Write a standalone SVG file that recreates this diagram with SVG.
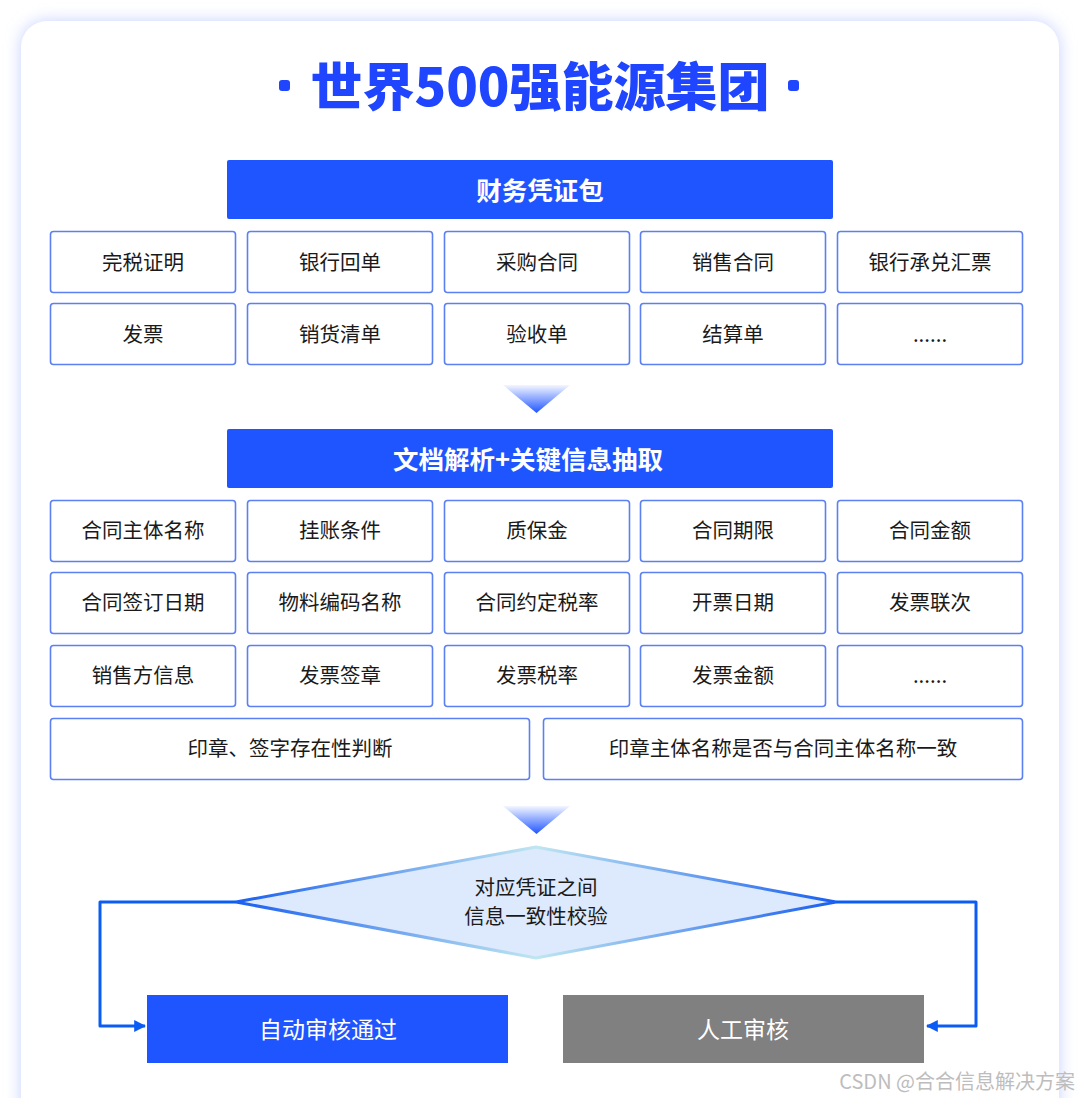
<svg xmlns="http://www.w3.org/2000/svg" width="1080" height="1098" viewBox="0 0 1080 1098">
<defs>
<style>
.box{fill:#fff;stroke:#5a80f2;stroke-width:1.6}
.t{font-family:"Noto Sans CJK SC","Noto Sans",sans-serif;font-size:20.5px;fill:#1a1a1a;text-anchor:middle;dominant-baseline:central}
.hd{fill:#1f55ff}
.ht{font-family:"Noto Sans CJK SC","Noto Sans",sans-serif;font-size:25.5px;font-weight:bold;fill:#fff;text-anchor:middle;dominant-baseline:central}
.wt{font-family:"Noto Sans CJK SC","Noto Sans",sans-serif;font-size:23px;fill:#fff;text-anchor:middle;dominant-baseline:central}
.conn{fill:none;stroke:#0a5cf5;stroke-width:3;stroke-linejoin:round}
</style>
<filter id="glow" x="-10%" y="-10%" width="120%" height="120%">
<feGaussianBlur stdDeviation="8"/>
</filter>
<linearGradient id="tri" x1="0" y1="0" x2="0" y2="1">
<stop offset="0" stop-color="#1f55ff" stop-opacity="0.05"/>
<stop offset="1" stop-color="#1f55ff"/>
</linearGradient>
<linearGradient id="dstroke" x1="0" y1="0" x2="1" y2="0">
<stop offset="0" stop-color="#1a5ff0"/>
<stop offset="0.5" stop-color="#bfe6f0"/>
<stop offset="1" stop-color="#1a5ff0"/>
</linearGradient>
<marker id="arr" viewBox="0 0 10 10" refX="9" refY="5" markerWidth="4" markerHeight="4" orient="auto" markerUnits="strokeWidth">
<path d="M0,0 L10,5 L0,10 z" fill="#0a5cf5"/>
</marker>
</defs>
<rect width="1080" height="1098" fill="#ffffff"/>
<rect x="21" y="21" width="1038" height="1110" rx="26" fill="#c6d0ff" filter="url(#glow)"/>
<rect x="21" y="21" width="1038" height="1110" rx="26" fill="#ffffff"/>

<g id="title">
<text x="540" y="83" font-family="'Noto Sans CJK SC','Noto Sans',sans-serif" font-size="52" font-weight="900" fill="#1f45ff" text-anchor="middle" dominant-baseline="central">世界500强能源集团</text>
<rect x="279" y="80" width="11" height="11" rx="3" fill="#1f45ff"/>
<rect x="788" y="80" width="11" height="11" rx="3" fill="#1f45ff"/>
</g>

<g id="header1"><rect class="hd" x="227" y="160" width="606" height="59" rx="2"/><text class="ht" x="540" y="188">财务凭证包</text></g>

<g id="r1c1"><rect class="box" x="50.5" y="231.5" width="185" height="61" rx="3"/><text class="t" x="143" y="261">完税证明</text></g>
<g id="r1c2"><rect class="box" x="247.5" y="231.5" width="185" height="61" rx="3"/><text class="t" x="340" y="261">银行回单</text></g>
<g id="r1c3"><rect class="box" x="444.5" y="231.5" width="185" height="61" rx="3"/><text class="t" x="537" y="261">采购合同</text></g>
<g id="r1c4"><rect class="box" x="640.5" y="231.5" width="185" height="61" rx="3"/><text class="t" x="733" y="261">销售合同</text></g>
<g id="r1c5"><rect class="box" x="837.5" y="231.5" width="185" height="61" rx="3"/><text class="t" x="930" y="261">银行承兑汇票</text></g>
<g id="r2c1"><rect class="box" x="50.5" y="303.5" width="185" height="61" rx="3"/><text class="t" x="143" y="333">发票</text></g>
<g id="r2c2"><rect class="box" x="247.5" y="303.5" width="185" height="61" rx="3"/><text class="t" x="340" y="333">销货清单</text></g>
<g id="r2c3"><rect class="box" x="444.5" y="303.5" width="185" height="61" rx="3"/><text class="t" x="537" y="333">验收单</text></g>
<g id="r2c4"><rect class="box" x="640.5" y="303.5" width="185" height="61" rx="3"/><text class="t" x="733" y="333">结算单</text></g>
<g id="r2c5"><rect class="box" x="837.5" y="303.5" width="185" height="61" rx="3"/><text class="t" x="930" y="333">......</text></g>

<g id="arrow1"><path d="M503,385 L570,385 L536.5,413 z" fill="url(#tri)"/></g>

<g id="header2"><rect class="hd" x="227" y="429" width="606" height="59" rx="2"/><text class="ht" x="528" y="457">文档解析+关键信息抽取</text></g>

<g id="k1c1"><rect class="box" x="50.5" y="500.5" width="185" height="61" rx="3"/><text class="t" x="143" y="529">合同主体名称</text></g>
<g id="k1c2"><rect class="box" x="247.5" y="500.5" width="185" height="61" rx="3"/><text class="t" x="340" y="529">挂账条件</text></g>
<g id="k1c3"><rect class="box" x="444.5" y="500.5" width="185" height="61" rx="3"/><text class="t" x="537" y="529">质保金</text></g>
<g id="k1c4"><rect class="box" x="640.5" y="500.5" width="185" height="61" rx="3"/><text class="t" x="733" y="529">合同期限</text></g>
<g id="k1c5"><rect class="box" x="837.5" y="500.5" width="185" height="61" rx="3"/><text class="t" x="930" y="529">合同金额</text></g>
<g id="k2c1"><rect class="box" x="50.5" y="572.5" width="185" height="61" rx="3"/><text class="t" x="143" y="601">合同签订日期</text></g>
<g id="k2c2"><rect class="box" x="247.5" y="572.5" width="185" height="61" rx="3"/><text class="t" x="340" y="601">物料编码名称</text></g>
<g id="k2c3"><rect class="box" x="444.5" y="572.5" width="185" height="61" rx="3"/><text class="t" x="537" y="601">合同约定税率</text></g>
<g id="k2c4"><rect class="box" x="640.5" y="572.5" width="185" height="61" rx="3"/><text class="t" x="733" y="601">开票日期</text></g>
<g id="k2c5"><rect class="box" x="837.5" y="572.5" width="185" height="61" rx="3"/><text class="t" x="930" y="601">发票联次</text></g>
<g id="k3c1"><rect class="box" x="50.5" y="645.5" width="185" height="61" rx="3"/><text class="t" x="143" y="674">销售方信息</text></g>
<g id="k3c2"><rect class="box" x="247.5" y="645.5" width="185" height="61" rx="3"/><text class="t" x="340" y="674">发票签章</text></g>
<g id="k3c3"><rect class="box" x="444.5" y="645.5" width="185" height="61" rx="3"/><text class="t" x="537" y="674">发票税率</text></g>
<g id="k3c4"><rect class="box" x="640.5" y="645.5" width="185" height="61" rx="3"/><text class="t" x="733" y="674">发票金额</text></g>
<g id="k3c5"><rect class="box" x="837.5" y="645.5" width="185" height="61" rx="3"/><text class="t" x="930" y="674">......</text></g>
<g id="k4c1"><rect class="box" x="50.5" y="718.5" width="479" height="61" rx="3"/><text class="t" x="290" y="747">印章、签字存在性判断</text></g>
<g id="k4c2"><rect class="box" x="543.5" y="718.5" width="479" height="61" rx="3"/><text class="t" x="783" y="747">印章主体名称是否与合同主体名称一致</text></g>

<g id="arrow2"><path d="M503,806 L570,806 L536.5,834 z" fill="url(#tri)"/></g>

<g id="connectors">
<path class="conn" d="M236,902 L100,902 L100,1026 L145,1026" marker-end="url(#arr)"/>
<path class="conn" d="M836,902 L976,902 L976,1026 L927,1026" marker-end="url(#arr)"/>
</g>

<g id="decision">
<path d="M236,902 L536,847 L836,902 L536,958 z" fill="#dde9fc" stroke="url(#dstroke)" stroke-width="3"/>
<text class="t" x="536" y="886" font-size="23">对应凭证之间</text>
<text class="t" x="536" y="915" font-size="23">信息一致性校验</text>
</g>

<g id="auto"><rect x="147" y="995" width="361" height="68" fill="#1f55ff"/><text class="wt" x="328" y="1028">自动审核通过</text></g>
<g id="manual"><rect x="563" y="995" width="361" height="68" fill="#808080"/><text class="wt" x="743" y="1028">人工审核</text></g>

<text x="1075" y="1080" font-family="'Noto Sans CJK SC','Noto Sans',sans-serif" font-size="20" fill="#bdbdbd" text-anchor="end" dominant-baseline="central">CSDN @合合信息解决方案</text>
</svg>
